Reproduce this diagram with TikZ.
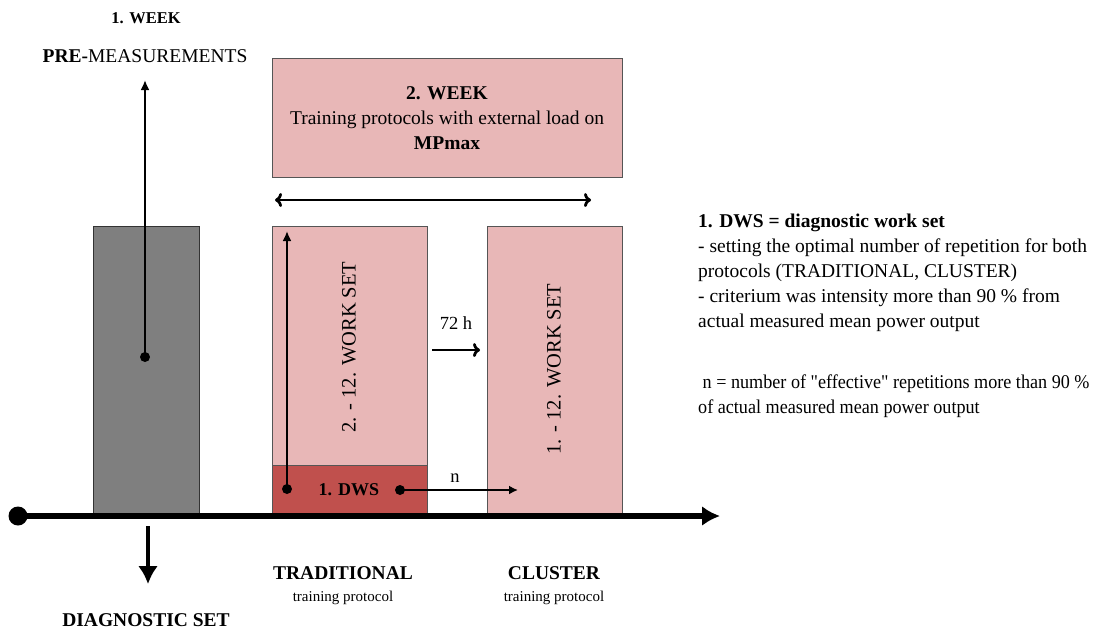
\documentclass[tikz,border=0pt]{standalone}
\usepackage{fontspec}
\setmainfont{Liberation Serif}
\newfontfamily\qfont{Liberation Serif}[Ligatures=TeXOff]
\usetikzlibrary{arrows.meta}
\definecolor{pinkfill}{HTML}{E8B7B7}
\definecolor{dwsfill}{HTML}{C0504D}
\definecolor{grayfill}{HTML}{7F7F7F}
\definecolor{edgegray}{HTML}{555555}
\tikzset{
  pinkbox/.style={draw=edgegray, line width=0.8pt, fill=pinkfill},
  txt/.style={font=\fontsize{19.5}{25}\selectfont, inner sep=0pt},
  btxt/.style={font=\fontsize{19.5}{25}\selectfont\bfseries, inner sep=0pt},
  smalltxt/.style={font=\fontsize{15}{18}\selectfont, inner sep=0pt},
  thinarrow/.style={line width=2.8pt, -{Latex[length=10pt,width=9pt]}},
  openarrow/.style={line width=2.8pt, -{To[length=7pt,width=14pt,line width=2.8pt]}},
  dot/.style={circle, fill=black, inner sep=0pt, minimum size=10pt},
}
\begin{document}
\begin{tikzpicture}[x=1pt,y=-1pt]
\useasboundingbox (0,0) rectangle (1097,630);
% gray diagnostic box
\draw[draw=black!80, line width=0.8pt, fill=grayfill] (93,226) rectangle (199,514);
% top box
\node[pinkbox, minimum width=350pt, minimum height=119pt, anchor=north west, inner sep=0pt] (week2) at (272,58) {};
\node[txt, align=center] (week2t) at (447,118) {\textbf{2. WEEK}\\Training protocols with external load on\\\textbf{MPmax}};
% traditional box
\node[pinkbox, minimum width=155pt, minimum height=239pt, anchor=north west, inner sep=0pt] (trad) at (272,226) {};
\node[draw=edgegray, line width=0.8pt, fill=dwsfill, minimum width=155pt, minimum height=49pt, anchor=north west, inner sep=0pt] (dws) at (272,465) {};
% cluster box
\node[pinkbox, minimum width=135pt, minimum height=288pt, anchor=north west, inner sep=0pt] (clus) at (487,226) {};
% rotated texts
\node[txt, font=\fontsize{20.5}{25}\selectfont, rotate=90] (tradt) at (349,347) {2. - 12. WORK SET};
\node[txt, font=\fontsize{20.5}{25}\selectfont, rotate=90] (clust) at (554,369) {1. - 12. WORK SET};
\node[btxt, font=\fontsize{18}{22}\selectfont\bfseries] (dwst) at (349,490) {1. DWS};
% timeline
\node[circle, fill=black, inner sep=0pt, minimum width=15pt, minimum height=19pt] (t0) at (18,516) {};
\coordinate (t1) at (720,516);
\draw[line width=6pt, -{Latex[length=18pt,width=20pt]}] (t0.center) -- (t1);
% pre-measurement arrow
\node[dot] (pdot) at (145,357) {};
\coordinate (ptop) at (145,80);
\draw[thinarrow] (pdot.center) -- (ptop);
% diagnostic arrow
\coordinate (ds0) at (148,526);
\coordinate (ds1) at (148,584);
\draw[line width=4pt, -{Latex[length=18pt,width=20pt]}] (ds0) -- (ds1);
% traditional vertical arrow
\node[dot] (tdot) at (287,489) {};
\coordinate (ttop) at (287,231);
\draw[thinarrow] (tdot.center) -- (ttop);
% n arrow
\node[dot] (ndot) at (400,490) {};
\coordinate (nend) at (518,490);
\draw[line width=2.8pt, -{Latex[length=9pt,width=9pt]}] (ndot.center) -- (nend);
\node[txt, font=\fontsize{18.5}{22}\selectfont] (nlab) at (455,478) {n};
% 72 h arrow
\coordinate (h0) at (432,350);
\coordinate (h1) at (480,350);
\draw[openarrow] (h0) -- (h1);
\node[txt, font=\fontsize{18.5}{22}\selectfont] (hlab) at (456,323) {72 h};
% double arrow
\coordinate (d0) at (275,200);
\coordinate (d1) at (591,200);
\draw[line width=2.8pt, {To[length=7pt,width=14pt,line width=2.8pt]}-{To[length=7pt,width=14pt,line width=2.8pt]}] (d0) -- (d1);
% left texts
\node[smalltxt, font=\fontsize{16.5}{20}\selectfont\bfseries] (w1) at (146,18) {1. WEEK};
\node[txt] (pre) at (145,56) {\textbf{PRE-}MEASUREMENTS};
\node[btxt] (diag) at (146,620) {DIAGNOSTIC SET};
% bottom labels
\node[btxt] (tradl) at (343,573) {TRADITIONAL};
\node[smalltxt] (tradl2) at (343,598) {training protocol};
\node[btxt] (clusl) at (554,573) {CLUSTER};
\node[smalltxt] (clusl2) at (554,598) {training protocol};
% right legend
\node[txt, align=left, anchor=north west] (leg1) at (698,214) {\textbf{1. DWS = diagnostic work set}\\- setting the optimal number of repetition for both\\protocols (TRADITIONAL, CLUSTER)\\- criterium was intensity more than 90 \% from\\actual measured mean power output};
\node[txt, align=left, anchor=north west, transform shape, xscale=0.93] (leg2) at (698,375) {\ n = number of {\qfont"}effective{\qfont"} repetitions more than 90 \%\\of actual measured mean power output};
\end{tikzpicture}
\end{document}
